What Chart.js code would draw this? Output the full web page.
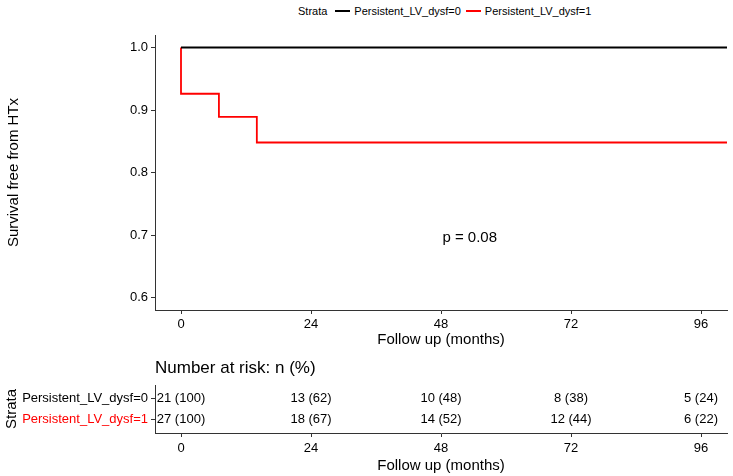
<!DOCTYPE html>
<html>
<head>
<meta charset="utf-8">
<script src="https://cdn.jsdelivr.net/npm/chart.js@4"></script>
<style>
  html, body { margin:0; padding:0; background:#fff; }
  body { width:733px; height:476px; overflow:hidden; position:relative; font-family:'Liberation Sans', Arial, sans-serif; }
  canvas { position:absolute; left:0; }
  #km { top:0; }
  #risk { top:351px; }
  #legend { position:absolute; top:4px; left:298px; display:flex; align-items:center; font-size:11px; line-height:14px; color:#000; white-space:nowrap; }
  #legend .sw { display:inline-block; width:15px; height:2px; margin:0 4px 0 5px; }
</style>
</head>
<body>
<div id="legend"></div>
<canvas id="km" width="733" height="351"></canvas>
<canvas id="risk" width="733" height="125"></canvas>
<script>
// ---- data ----
const strata = ['Persistent_LV_dysf=0', 'Persistent_LV_dysf=1'];
const strataColors = ['#000000', '#ff0000'];
const timesBlack = [0, 100.8];
const survBlack = [1.0, 1.0];
const timesRed = [0, 0, 7, 14, 100.8];
const survRed = [1.0, 0.926, 0.889, 0.848, 0.848];
const xTicks = [0, 24, 48, 72, 96];
const yTicks = [0.6, 0.7, 0.8, 0.9, 1.0];
const riskTimes = [0, 24, 48, 72, 96];
const riskN0 = [21, 13, 10, 8, 5];
const riskPct0 = [100, 62, 48, 38, 24];
const riskN1 = [27, 18, 14, 12, 6];
const riskPct1 = [100, 67, 52, 44, 22];
const pText = 'p = 0.08';
const legendTitle = 'Strata';
const xTitle = 'Follow up (months)';
const yTitle = 'Survival free from HTx';
const riskTitle = 'Number at risk: n (%)';

Chart.defaults.font.family = "'Liberation Sans', Arial, sans-serif";
Chart.defaults.color = '#000';

// legend (HTML)
const lg = document.getElementById('legend');
let html = '<span>' + legendTitle + '</span>';
strata.forEach((s, i) => {
  html += '<span class="sw" style="background:' + strataColors[i] + (i === 0 ? ';margin-left:8px' : '') + '"></span><span>' + s + '</span>';
});
lg.innerHTML = html;

const axisColor = '#333';

const pPlugin = {
  id: 'pval',
  afterDatasetsDraw(chart) {
    const {ctx, scales} = chart;
    ctx.save();
    ctx.font = "15px 'Liberation Sans', Arial, sans-serif";
    ctx.fillStyle = '#000';
    ctx.textAlign = 'center';
    ctx.textBaseline = 'middle';
    ctx.fillText(pText, scales.x.getPixelForValue(53.3), scales.y.getPixelForValue(0.696));
    ctx.restore();
  }
};

new Chart(document.getElementById('km'), {
  type: 'line',
  data: {
    datasets: [
      { label: strata[0], data: timesBlack.map((t, i) => ({x: t, y: survBlack[i]})), borderColor: strataColors[0], borderWidth: 1.8, stepped: true, pointRadius: 0, fill: false },
      { label: strata[1], data: timesRed.map((t, i) => ({x: t, y: survRed[i]})), borderColor: strataColors[1], borderWidth: 1.8, stepped: true, pointRadius: 0, fill: false }
    ]
  },
  options: {
    responsive: false,
    animation: false,
    layout: { padding: { top: 35, right: 6, left: 0, bottom: 0 } },
    plugins: { legend: { display: false }, tooltip: { enabled: false } },
    scales: {
      x: {
        type: 'linear', min: -4.8, max: 100.8,
        afterBuildTicks: s => { s.ticks = xTicks.map(v => ({value: v})); },
        afterFit: s => { s.height = 41; },
        grid: { drawOnChartArea: false, color: axisColor, tickLength: 4 },
        border: { color: axisColor, width: 1 },
        ticks: { color: '#000', font: { size: 13 }, padding: 3, maxRotation: 0, callback: v => String(v) },
        title: { display: true, text: xTitle, color: '#000', font: { size: 15 }, padding: { top: 0, bottom: 2 } }
      },
      y: {
        type: 'linear', min: 0.58, max: 1.02,
        afterBuildTicks: s => { s.ticks = yTicks.map(v => ({value: v})); },
        afterFit: s => { s.width = 155; },
        grid: { drawOnChartArea: false, color: axisColor, tickLength: 4 },
        border: { color: axisColor, width: 1 },
        ticks: { color: '#000', font: { size: 13 }, padding: 3, callback: v => Number(v).toFixed(1) },
        title: { display: true, text: yTitle, color: '#000', font: { size: 15 }, padding: { top: 5, bottom: 0 } }
      }
    }
  },
  plugins: [pPlugin]
});

const riskPlugin = {
  id: 'riskText',
  afterDatasetsDraw(chart) {
    const {ctx, chartArea} = chart;
    ctx.save();
    ctx.fillStyle = '#000';
    ctx.font = "17px 'Liberation Sans', Arial, sans-serif";
    ctx.textAlign = 'left';
    ctx.textBaseline = 'middle';
    ctx.fillText(riskTitle, chartArea.left, 17);
    ctx.font = "13px 'Liberation Sans', Arial, sans-serif";
    ctx.textAlign = 'center';
    const sets = [[riskN0, riskPct0], [riskN1, riskPct1]];
    chart.data.datasets.forEach((ds, di) => {
      const meta = chart.getDatasetMeta(di);
      meta.data.forEach((el, i) => {
        ctx.fillText(sets[di][0][i] + ' (' + sets[di][1][i] + ')', el.x, el.y);
      });
    });
    ctx.restore();
  }
};

new Chart(document.getElementById('risk'), {
  type: 'scatter',
  data: {
    datasets: [
      { label: strata[0], data: riskTimes.map(t => ({x: t, y: 1})), pointRadius: 0 },
      { label: strata[1], data: riskTimes.map(t => ({x: t, y: 2})), pointRadius: 0 }
    ]
  },
  options: {
    responsive: false,
    animation: false,
    layout: { padding: { top: 34, right: 6, left: 0, bottom: 0 } },
    plugins: { legend: { display: false }, tooltip: { enabled: false } },
    scales: {
      x: {
        type: 'linear', min: -4.8, max: 100.8,
        afterBuildTicks: s => { s.ticks = xTicks.map(v => ({value: v})); },
        afterFit: s => { s.height = 43; },
        grid: { drawOnChartArea: false, color: axisColor, tickLength: 4 },
        border: { color: axisColor, width: 1 },
        ticks: { color: '#000', font: { size: 13 }, padding: 4, maxRotation: 0, callback: v => String(v) },
        title: { display: true, text: xTitle, color: '#000', font: { size: 15 }, padding: { top: 0, bottom: 1 } }
      },
      y: {
        type: 'linear', min: 0.4, max: 2.6, reverse: true,
        afterBuildTicks: s => { s.ticks = [{value: 1}, {value: 2}]; },
        afterFit: s => { s.width = 155; },
        grid: { drawOnChartArea: false, color: axisColor, tickLength: 4 },
        border: { color: axisColor, width: 1 },
        ticks: { font: { size: 13 }, padding: 3, color: c => strataColors[c.index] || '#000', callback: v => strata[Math.round(v) - 1] },
        title: { display: true, text: legendTitle, color: '#000', font: { size: 15 }, padding: { top: 3, bottom: 0 } }
      }
    }
  },
  plugins: [riskPlugin]
});
</script>
</body>
</html>
